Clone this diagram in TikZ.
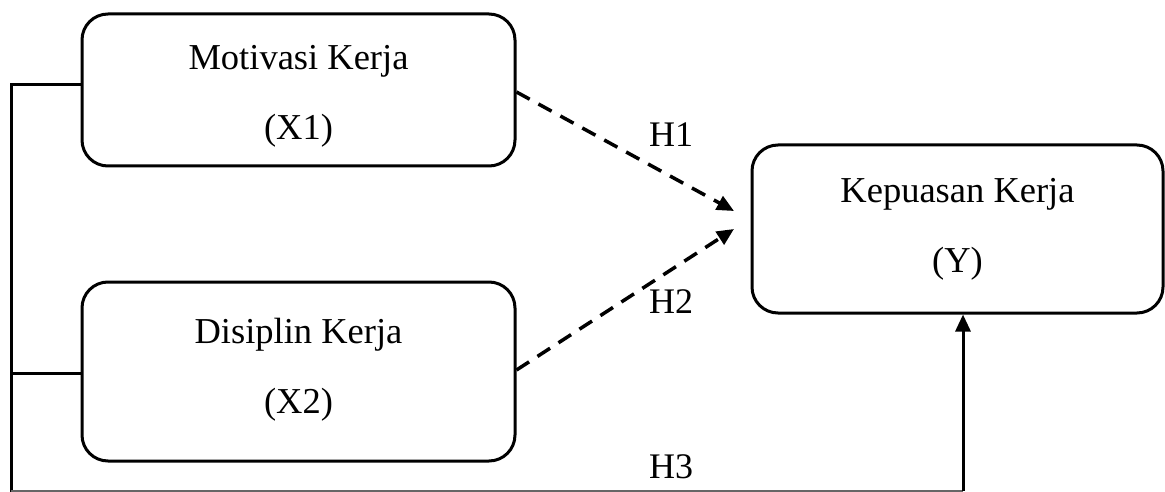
\documentclass[tikz,border=0pt]{standalone}
\usepackage{fontspec}
\setmainfont{Liberation Serif}
\usetikzlibrary{arrows.meta}
\begin{document}
\begin{tikzpicture}[x=1pt,y=-1pt,
  varbox/.style={draw=black, line width=3pt, rounded corners=26pt, minimum width=433pt, inner sep=0pt},
  boxtext/.style={align=center, font=\fontsize{36.5}{70}\selectfont, inner sep=0pt},
  conn/.style={draw=black, line width=3pt},
  dashconn/.style={draw=black, line width=3.5pt, dash pattern=on 15pt off 10pt, -{Triangle[length=17pt,width=15pt]}},
  hlabel/.style={font=\fontsize{36}{40}\selectfont, inner sep=1pt}
]
\useasboundingbox (0,0) rectangle (1165,492);
\fill[white] (0,0) rectangle (1165,492);
% boxes
\node[varbox, minimum height=152pt] (X1) at (298.5,90) {};
\node[boxtext] (X1t) at ([yshift=-6pt]X1.center) {Motivasi Kerja\\(X1)};
\node[varbox, minimum height=179pt] (X2) at (298.5,371.5) {};
\node[boxtext] (X2t) at ([yshift=2pt]X2.center) {Disiplin Kerja\\(X2)};
\node[varbox, minimum width=411pt, minimum height=168pt] (Y) at (957.5,229) {};
\node[boxtext] (Yt) at (Y.center) {Kepuasan Kerja\\(Y)};
% coordinates
\coordinate (L1) at (11,85);
\coordinate (L2) at (11,373);
\coordinate (Lb) at (11,492);
\coordinate (Rb) at (963,491);
\coordinate (E1) at (734,211);
\coordinate (E2) at (734,229);
% left bracket lines
\draw[conn] (X1.west |- L1) -- (L1) -- (Lb);
\draw[conn] (X2.west |- L2) -- (L2);
\draw[draw=black!60, line width=2pt] (11,491) -- (Rb);
\draw[conn, -{Triangle[length=17pt,width=15pt]}] (Rb) -- (Rb |- Y.south);
% dashed arrows
\draw[dashconn] ([yshift=-2pt]X1.east) -- (E1);
\draw[dashconn] ([yshift=1.5pt]X2.east) -- (E2);
% labels
\node[hlabel] (H1) at (671,135) {H1};
\node[hlabel] (H2) at (671,302) {H2};
\node[hlabel] (H3) at (671,467) {H3};
\end{tikzpicture}
\end{document}
